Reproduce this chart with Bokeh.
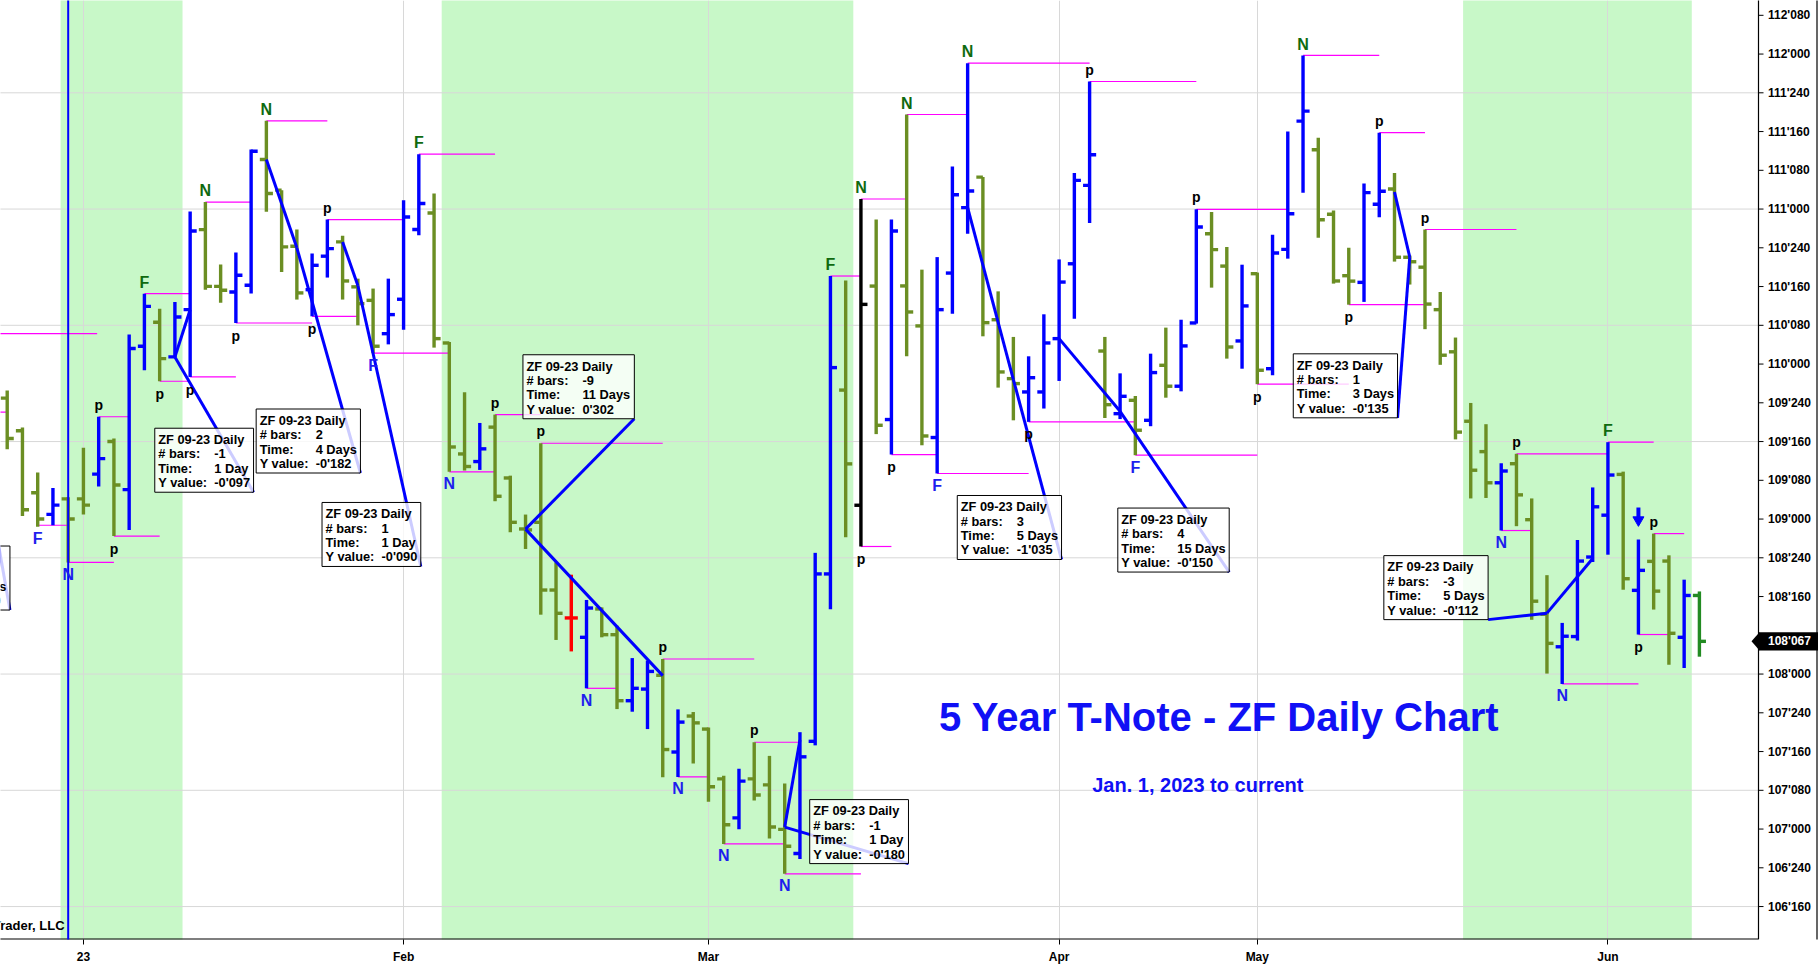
from bokeh.plotting import figure
from bokeh.models import FixedTicker, Range1d
from bokeh.core.properties import value
from bokeh.embed import file_html
from bokeh.resources import INLINE

# ---------------- data ----------------
opens = [109.78, 109.57, 109.17, 109.03, 109.13, 109.13, 109.29, 109.50, 109.19, 110.115,
         110.27, 110.046, 110.351, 110.867, 110.501, 110.465, 110.508, 111.32, 111.122, 110.76,
         110.48, 110.696, 110.788, 110.498, 110.411, 110.196, 110.418, 110.868, 110.975, 110.136,
         109.42, 109.371, 109.593, 109.265, 108.936, 108.979, 108.542, 108.362, 108.237, 108.42,
         108.254, 107.828, 107.903, 107.992, 107.497, 107.729, 107.645, 107.324, 107.072, 107.324,
         107.285, 106.998, 106.842, 107.566, 108.646, 109.832, 109.089, 110.503, 109.642, 110.504,
         110.246, 109.526, 110.587, 111.009, 111.206, 110.286, 109.906, 109.82, 109.82, 110.164,
         110.647, 111.153, 110.084, 109.68, 109.766, 109.637, 109.992, 109.857, 110.265, 110.841,
         110.632, 110.149, 110.583, 109.97, 110.74, 111.567, 111.383, 110.966, 110.57, 110.527,
         111.031, 111.129, 110.689, 110.625, 110.351, 110.079, 109.631, 109.435, 109.234, 109.357,
         108.996, 108.386, 108.176, 108.242, 108.755, 109.025, 109.288, 108.54, 108.727, 108.729,
         108.237, 108.507]
highs = [109.83, 109.59, 109.30, 109.20, 109.14, 109.46, 109.66, 109.52, 110.19, 110.454,
         110.357, 110.40, 110.985, 111.045, 110.643, 110.719, 111.384, 111.569, 111.122, 110.868,
         110.713, 110.932, 110.827, 110.551, 110.487, 110.551, 111.057, 111.354, 111.10, 110.143,
         109.818, 109.62, 109.674, 109.28, 109.029, 109.489, 108.721, 108.641, 108.478, 108.43,
         108.312, 108.103, 108.087, 108.097, 107.772, 107.755, 107.655, 107.344, 107.389, 107.56,
         107.472, 107.294, 107.625, 108.782, 110.568, 110.539, 111.065, 110.933, 110.933, 111.61,
         110.609, 110.69, 111.275, 111.941, 111.206, 110.469, 110.175, 110.05, 110.321, 110.675,
         111.232, 111.823, 110.175, 109.94, 109.794, 110.067, 110.235, 110.286, 110.998, 110.981,
         110.755, 110.641, 110.59, 110.834, 111.501, 111.991, 111.46, 110.991, 110.751, 111.165,
         111.493, 111.232, 110.70, 110.868, 110.465, 110.171, 109.749, 109.612, 109.36, 109.421,
         109.133, 108.638, 108.33, 108.865, 109.204, 109.496, 109.306, 108.868, 108.906, 108.766,
         108.609, 108.533]
lows = [109.45, 109.02, 108.95, 108.96, 108.72, 109.03, 109.21, 108.89, 108.93, 109.96,
        109.889, 110.046, 109.917, 110.48, 110.396, 110.265, 110.455, 110.982, 110.594, 110.416,
        110.308, 110.558, 110.416, 110.25, 110.07, 110.127, 110.222, 110.831, 110.106, 109.305,
        109.313, 109.317, 109.115, 108.915, 108.807, 108.383, 108.22, 108.146, 107.908, 108.237,
        107.774, 107.757, 107.645, 107.335, 107.336, 107.423, 107.176, 106.904, 106.998, 107.185,
        106.939, 106.711, 106.806, 107.54, 108.418, 108.882, 108.823, 109.548, 109.416, 110.05,
        109.476, 109.294, 110.325, 110.841, 110.179, 109.848, 109.637, 109.627, 109.713, 109.891,
        110.293, 110.91, 109.652, 109.645, 109.412, 109.599, 109.783, 109.824, 110.261, 110.493,
        110.035, 109.97, 109.87, 109.928, 110.68, 111.105, 110.815, 110.519, 110.383, 110.401,
        110.947, 110.661, 110.513, 110.225, 109.995, 109.514, 109.133, 109.136, 108.926, 108.954,
        108.35, 108.003, 107.936, 108.216, 108.723, 108.77, 108.544, 108.255, 108.416, 108.06,
        108.039, 108.112]
closes = [109.52, 109.06, 109.00, 109.09, 109.00, 109.09, 109.39, 109.22, 110.10, 110.372,
          110.035, 110.304, 110.858, 110.501, 110.476, 110.573, 111.373, 111.10, 110.756, 110.459,
          110.637, 110.745, 110.536, 110.39, 110.115, 110.319, 110.949, 111.036, 110.164, 109.465,
          109.339, 109.453, 109.147, 108.979, 108.93, 108.542, 108.392, 108.362, 108.426, 108.254,
          107.828, 107.908, 108.017, 107.513, 107.69, 107.685, 107.273, 107.028, 107.309, 107.22,
          107.013, 106.889, 107.466, 108.646, 109.977, 109.356, 110.385, 109.605, 110.858, 110.336,
          109.536, 110.351, 111.092, 111.116, 110.267, 109.949, 109.874, 109.912, 110.136, 110.529,
          111.185, 111.35, 109.738, 109.792, 109.573, 109.945, 109.857, 110.117, 110.884, 110.738,
          110.11, 110.375, 109.96, 110.716, 110.97, 111.632, 110.931, 110.536, 110.535, 111.106,
          111.115, 110.689, 110.66, 110.387, 110.057, 109.561, 109.315, 109.234, 109.31, 109.156,
          108.47, 108.198, 108.244, 108.729, 109.079, 109.284, 108.615, 108.669, 108.535, 108.263,
          108.507, 108.211]

month_ticks = [5, 26, 46, 69, 82, 105]
month_labels = ["23", "Feb", "Mar", "Apr", "May", "Jun"]

shade_start = [3.5, 28.5, 95.5]
shade_end = [11.5, 55.5, 110.5]

marker_line_bar = 4

pivot_start = [-1, -1, 2, 4, 6, 7, 9, 10, 12, 13, 15, 17, 20, 21, 24, 27, 29, 32, 35, 38, 43, 44,
               47, 49, 51, 54, 56, 56, 58, 59, 61, 63, 67, 71, 74, 78, 82, 85, 88, 90, 93, 98, 99,
               102, 105, 107, 108]
pivot_end = [5.9, 0, 4, 7, 8, 10, 12, 12, 15, 16, 20, 21, 23, 26, 29, 32, 32, 35, 43, 40, 49, 46,
             51, 52, 56, 56, 59, 58, 61, 63, 67, 71, 74, 78, 82, 84, 88, 90, 93, 93, 99, 100, 105,
             107, 108, 109, 110]
pivot_price = [110.196, 109.69, 108.96, 108.72, 109.66, 108.89, 110.454, 109.889, 109.917, 111.045,
               110.265, 111.569, 110.308, 110.932, 110.07, 111.354, 109.305, 109.674, 109.489,
               107.908, 108.097, 107.336, 106.904, 107.56, 106.711, 110.568, 111.065, 108.823,
               109.416, 111.61, 109.294, 111.941, 109.627, 111.823, 109.412, 110.998, 109.87,
               111.991, 110.383, 111.493, 110.868, 108.926, 109.421, 107.936, 109.496, 108.255,
               108.906]

mark_bar = [2, 4, 6, 7, 9, 10, 12, 13, 15, 17, 20, 21, 24, 27, 29, 32, 35, 38, 43, 44, 47, 49, 51,
            54, 56, 56, 58, 59, 61, 63, 67, 71, 74, 78, 82, 85, 88, 90, 93, 98, 99, 102, 105, 107,
            108]
mark_text = ["F", "N", "p", "p", "F", "p", "p", "N", "p", "N", "p", "p", "F", "F", "N", "p", "p",
             "N", "p", "N", "N", "p", "N", "F", "N", "p", "p", "N", "F", "N", "p", "p", "F", "p",
             "p", "N", "p", "p", "p", "N", "p", "N", "F", "p", "p"]
mark_side = ["L", "L", "H", "L", "H", "L", "L", "H", "L", "H", "L", "H", "L", "H", "L", "H", "H",
             "L", "H", "L", "L", "H", "L", "H", "H", "L", "L", "H", "L", "H", "L", "H", "L", "H",
             "L", "H", "L", "H", "H", "L", "H", "L", "H", "L", "H"]
arrow_bar = 107

# measurement lines (from point 1 to point 2)
meas_bar1 = [12, 17, 22, 43, 52, 63, 69, 91, 104]
meas_p1 = [110.35, 111.32, 110.788, 107.99, 107.575, 111.009, 110.164, 111.11, 108.745]
meas_bar2 = [11, 19, 23, 34, 51, 66, 73, 92, 101]
meas_p2 = [110.045, 110.75, 110.507, 108.935, 107.0125, 109.90, 109.695, 110.69, 108.393]

# info boxes (top-left anchor: bar index, price)
box_left = [9.68, 16.33, 20.65, 33.83, 52.64, 62.32, 72.85, 84.36, 90.30, -6.66]
box_top = [109.586, 109.71, 109.107, 110.06, 107.19, 109.152, 109.071, 110.066, 108.764, 108.826]
box_nbars = ["-1", "2", "1", "-9", "-1", "3", "4", "1", "-3", "-2"]
box_time = ["1 Day", "4 Days", "1 Day", "11 Days", "1 Day", "5 Days", "15 Days", "3 Days",
            "5 Days", "4 Days"]
box_yval = ["-0'097", "-0'182", "-0'090", "0'302", "-0'180", "-1'035", "-0'150", "-0'135",
            "-0'112", "-0'150"]
box_leader_from = [None, None, None, None, None, None, None, None, None, (-3.0, 110.2)]

last_price = 108.211
last_label = "108'067"

title_text = "5 Year T-Note - ZF Daily Chart"
subtitle_text = "Jan. 1, 2023 to current"
credit_text = "Trader, LLC"

# ---------------- layout / styles ----------------
FW, FH = 1818, 939
PPX = 15.245                      # px per bar
PPY = 155.0                       # px per point
X0 = -0.44
AXX = X0 + 1758 / PPX             # price axis position (bar units)
X1 = X0 + FW / PPX
Y1 = 112.3455
Y0 = Y1 - FH / PPY

FONT = value("Liberation Sans")
OLIVE = "#6b8e23"
BLUE = "#0000ff"
MAG = "#ff00ff"
SHADE = "#c8f8c8"
NGREEN = "#0f6a0f"
NBLUE = "#1e1eee"
TITLE_BLUE = "#1010f5"
GRID = "#d8d8d8"

p = figure(frame_width=FW, frame_height=FH, x_range=Range1d(X0, X1), y_range=Range1d(Y0, Y1),
           y_axis_location=None, output_backend="svg", toolbar_location=None,
           min_border_left=0, min_border_top=0, min_border_bottom=0, min_border_right=0)
p.outline_line_color = None
p.background_fill_color = "white"
p.border_fill_color = "white"

# shading behind grid
p.quad(left=shade_start, right=shade_end, bottom=Y0 - 1, top=Y1 + 1, fill_color=SHADE,
       line_color=None, level="image")

# grid
grid_ticks = [106.5 + 0.75 * k for k in range(8)]
p.ygrid.visible = False
p.xgrid.ticker = FixedTicker(ticks=month_ticks)
p.xgrid.grid_line_color = GRID
p.xgrid.grid_line_width = 1
p.segment(x0=[X0 - 1] * len(grid_ticks), y0=grid_ticks, x1=[AXX] * len(grid_ticks),
          y1=grid_ticks, line_color=GRID, line_width=1, level="underlay")

# bottom (date) axis
p.xaxis.ticker = FixedTicker(ticks=month_ticks)
p.xaxis.major_label_overrides = {t: l for t, l in zip(month_ticks, month_labels)}
ax = p.xaxis[0]
ax.axis_line_color = None
ax.major_tick_line_color = "black"
ax.major_tick_out = 5
ax.major_tick_in = 0
ax.minor_tick_out = 0
ax.minor_tick_in = 0
ax.major_label_text_font = "Liberation Sans"
ax.major_label_text_font_style = "bold"
ax.major_label_text_color = "black"
ax.major_label_text_font_size = "12px"
ax.major_label_standoff = 5
p.segment(x0=[X0 - 1], y0=[Y0], x1=[AXX], y1=[Y0], line_color="black", line_width=2)

# price axis on the right, drawn in the frame
yticks = [106.5 + 0.25 * k for k in range(24)]
def fmt32(v):
    whole = int(v)
    frac = int(round((v - whole) * 320))
    return f"{whole}'{frac:03d}"
ylabels = [fmt32(t) if abs(t - 108.25) > 1e-9 else "" for t in yticks]
p.segment(x0=[AXX], y0=[Y0], x1=[AXX], y1=[Y1 + 1], line_color="black", line_width=1.2)
p.segment(x0=[AXX] * len(yticks), y0=yticks, x1=[AXX + 5 / PPX] * len(yticks), y1=yticks,
          line_color="black", line_width=1)
p.text(x=[AXX] * len(yticks), y=yticks, text=ylabels, x_offset=9.5, text_baseline="middle",
       text_align="left", text_font=FONT, text_font_size="12px", text_font_style="bold",
       text_color="black")
p.segment(x0=[X1 - 1.5 / PPX], y0=[Y0 - 1], x1=[X1 - 1.5 / PPX], y1=[Y1 + 1], line_color="black",
          line_width=1.2)

# pivot lines
p.segment(x0=pivot_start, y0=pivot_price, x1=pivot_end, y1=pivot_price, line_color=MAG,
          line_width=1.2)

# OHLC bars
n = len(opens)
idx = list(range(n))
colors = []
for i in idx:
    if closes[i] > opens[i]:
        c = BLUE
    elif closes[i] < opens[i]:
        c = OLIVE
    else:
        c = "#ff0000"
    colors.append(c)
colors[56] = "black"
colors[n - 1] = "#228b22"
TK = 0.43
p.segment(x0=idx, y0=lows, x1=idx, y1=highs, line_color=colors, line_width=3.4, line_cap="butt")
p.segment(x0=[i - TK for i in idx], y0=opens, x1=idx, y1=opens, line_color=colors,
          line_width=3.4, line_cap="butt")
p.segment(x0=idx, y0=closes, x1=[i + TK for i in idx], y1=closes, line_color=colors,
          line_width=3.4, line_cap="butt")

# vertical marker line
p.segment(x0=[marker_line_bar], y0=[Y0 - 1], x1=[marker_line_bar], y1=[Y1 + 1], line_color=BLUE,
          line_width=2)

# box geometry
BOX_FS = 12.8
EM = {"0": .556, "1": .556, "2": .556, "3": .556, "4": .556, "5": .556, "6": .556, "7": .556,
      "8": .556, "9": .556, "-": .333, "'": .238, " ": .278, "D": .722, "a": .556, "y": .556,
      "s": .556}
def text_w(s, size=BOX_FS):
    return sum(EM.get(ch, .556) for ch in s) * size
BOX_H = 64
box_w = [63 + max(text_w(a), text_w(b), text_w(c)) for a, b, c in zip(box_nbars, box_time, box_yval)]
box_right = [l + w / PPX for l, w in zip(box_left, box_w)]
box_bottom = [t - BOX_H / PPY for t in box_top]

# measurement + leader lines
p.segment(x0=meas_bar1, y0=meas_p1, x1=meas_bar2, y1=meas_p2, line_color=BLUE, line_width=3)
lx0, ly0, lx1, ly1 = [], [], [], []
for k in range(len(box_left)):
    if k < len(meas_bar2):
        sx, sy = meas_bar2[k], meas_p2[k]
    else:
        sx, sy = box_leader_from[k]
    lx0.append(sx); ly0.append(sy); lx1.append(box_right[k]); ly1.append(box_bottom[k])
p.segment(x0=lx0, y0=ly0, x1=lx1, y1=ly1, line_color=BLUE, line_width=3)

# boxes (semi-opaque, so the leader lines show faintly through them)
p.quad(left=box_left, right=box_right, top=box_top, bottom=box_bottom, fill_color="white",
       fill_alpha=0.8, line_color="black", line_width=1)
for r, (lab, vals) in enumerate([("ZF 09-23 Daily", None), ("# bars:", box_nbars),
                                 ("Time:", box_time), ("Y value:", box_yval)]):
    yo = 11.3 + 14.4 * r
    p.text(x=box_left, y=box_top, text=[lab] * len(box_left), x_offset=3.5, y_offset=yo,
           text_baseline="middle", text_align="left", text_font=FONT,
           text_font_size=f"{BOX_FS}px", text_font_style="bold", text_color="black")
    if vals is not None:
        p.text(x=box_left, y=box_top, text=vals, x_offset=59.5, y_offset=yo,
               text_baseline="middle", text_align="left", text_font=FONT,
               text_font_size=f"{BOX_FS}px", text_font_style="bold", text_color="black")

# N / F / p marks
mx, my, mt, mc, moff, msize = [], [], [], [], [], []
for b, t, s in zip(mark_bar, mark_text, mark_side):
    mx.append(b)
    mt.append(t)
    if s == "H":
        my.append(highs[b])
        moff.append(-11.9 if t == "p" else -11.3)
        mc.append("black" if t == "p" else NGREEN)
    else:
        my.append(lows[b])
        moff.append(12.6 if t == "p" else 12.0)
        mc.append("black" if t == "p" else NBLUE)
    msize.append("14px" if t == "p" else "16px")
p.text(x=mx, y=my, text=mt, y_offset=moff, text_color=mc, text_font=FONT,
       text_font_size=msize, text_font_style="bold", text_align="center",
       text_baseline="middle")

# down arrow above bar
ah = highs[arrow_bar]
p.segment(x0=[arrow_bar], y0=[ah + 22 / PPY], x1=[arrow_bar], y1=[ah + 32 / PPY],
          line_color=BLUE, line_width=4, line_cap="butt")
p.scatter(x=[arrow_bar], y=[ah + 19.5 / PPY], marker="inverted_triangle", size=11,
          fill_color=BLUE, line_color=BLUE)

# titles
p.text(x=[79.5], y=[107.726], text=[title_text], text_color=TITLE_BLUE, text_font=FONT,
       text_font_size="40px", text_font_style="bold", text_align="center",
       text_baseline="middle")
p.text(x=[78.1], y=[107.284], text=[subtitle_text], text_color=TITLE_BLUE, text_font=FONT,
       text_font_size="20px", text_font_style="bold", text_align="center",
       text_baseline="middle")
p.text(x=[3.76], y=[106.378], text=[credit_text], text_color="black", text_font=FONT,
       text_font_size="13px", text_font_style="bold", text_align="right", text_baseline="middle")

# last price marker on the price axis
mh = 9.2 / PPY
p.quad(left=[AXX + 0.5 / PPX], right=[X1 + 1], top=[last_price + mh], bottom=[last_price - mh],
       fill_color="black", line_color=None)
p.patch(x=[AXX - 7 / PPX, AXX + 1 / PPX, AXX + 1 / PPX], y=[last_price, last_price + mh,
        last_price - mh], fill_color="black", line_color=None)
p.text(x=[AXX], y=[last_price], text=[last_label], x_offset=9.5, text_baseline="middle",
       text_align="left", text_font=FONT, text_font_size="12px", text_font_style="bold",
       text_color="white")

open("out.html", "w").write(file_html(p, INLINE))
